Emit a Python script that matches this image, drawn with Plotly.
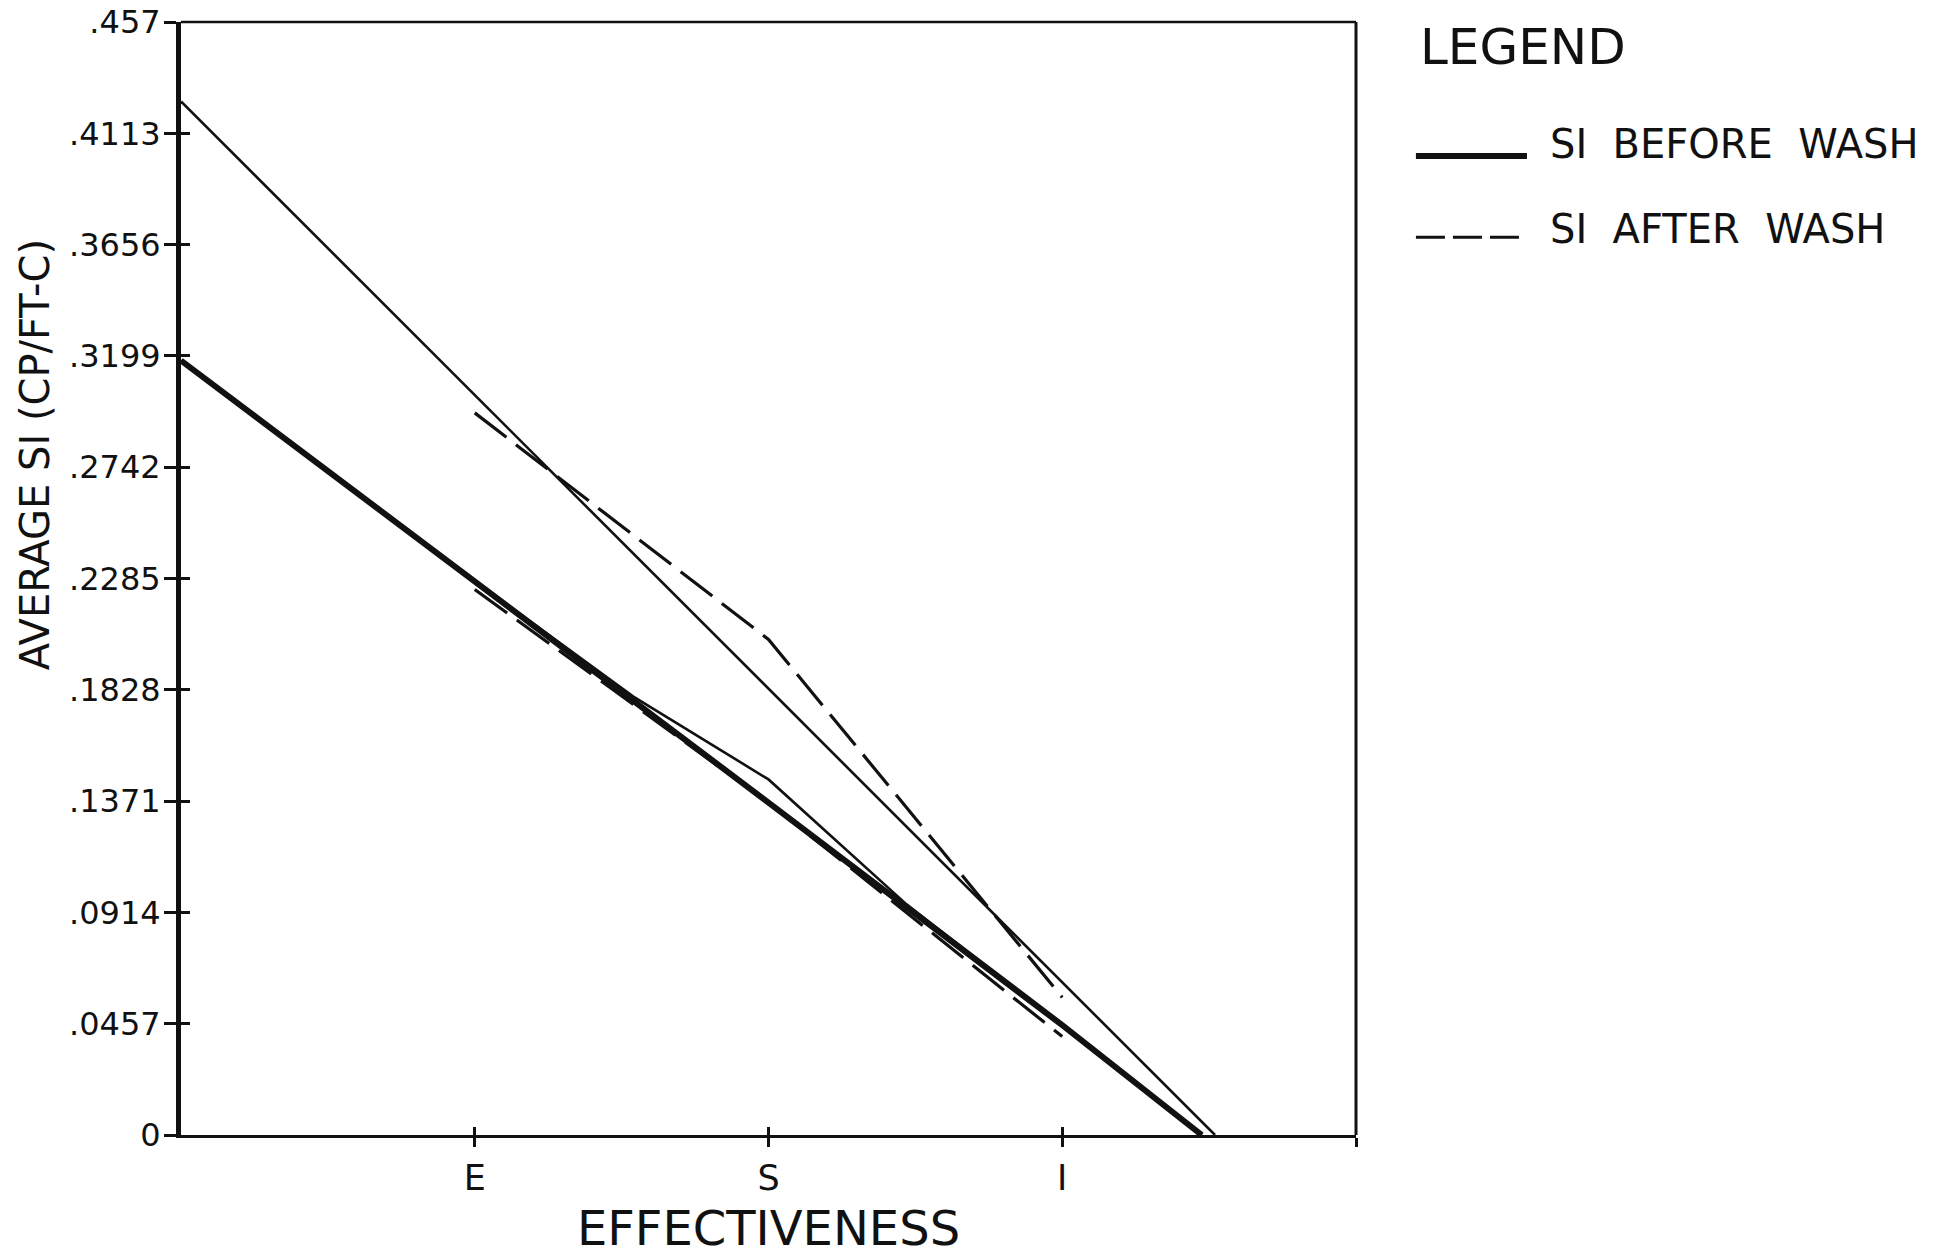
import plotly.graph_objects as go

# ---- data ----
x_tick_vals = [1, 2, 3, 4]
x_tick_text = ["E", "S", "I", ""]
y_tick_vals = [0, 0.0457, 0.0914, 0.1371, 0.1828, 0.2285, 0.2742, 0.3199, 0.3656, 0.4113, 0.457]
y_tick_text = ["0", ".0457", ".0914", ".1371", ".1828", ".2285", ".2742", ".3199", ".3656", ".4113", ".457"]

upper_thin_x = [0, 3.52]
upper_thin_y = [0.4244, 0.0]

before_x = [0, 1, 2, 3, 3.475]
before_y = [0.318, 0.2276, 0.1365, 0.0451, 0.0]

lower_thin_x = [0, 1, 1.54, 2, 2.47, 3, 3.475]
lower_thin_y = [0.318, 0.2276, 0.180, 0.146, 0.0947, 0.0451, 0.0]

after_upper_x = [1, 2, 3]
after_upper_y = [0.2965, 0.2035, 0.0565]

after_lower_x = [1, 2, 3]
after_lower_y = [0.224, 0.1365, 0.0404]

FONT = "DejaVu Sans"
INK = "#111111"

fig = go.Figure()

fig.add_trace(go.Scatter(x=after_upper_x, y=after_upper_y, mode="lines",
                         line=dict(color=INK, width=3.2, dash="40px,12px"),
                         name="SI AFTER WASH", showlegend=False))
fig.add_trace(go.Scatter(x=after_lower_x, y=after_lower_y, mode="lines",
                         line=dict(color=INK, width=3.2, dash="40px,12px"),
                         name="SI AFTER WASH (2)", showlegend=False))
fig.add_trace(go.Scatter(x=upper_thin_x, y=upper_thin_y, mode="lines",
                         line=dict(color=INK, width=2.6),
                         name="upper", showlegend=False))
fig.add_trace(go.Scatter(x=lower_thin_x, y=lower_thin_y, mode="lines",
                         line=dict(color=INK, width=2.6),
                         name="lower", showlegend=False))
fig.add_trace(go.Scatter(x=before_x, y=before_y, mode="lines",
                         line=dict(color=INK, width=6),
                         name="SI BEFORE WASH", showlegend=False))

fig.update_layout(
    width=1960, height=1256,
    margin=dict(l=181, r=604, t=22, b=121, autoexpand=False),
    paper_bgcolor="white", plot_bgcolor="white",
    font=dict(family=FONT, color=INK),
    showlegend=False,
    xaxis=dict(range=[0, 4], tickvals=x_tick_vals, ticktext=x_tick_text, automargin=False,
               showgrid=False, zeroline=False, showline=True, linecolor=INK, linewidth=3,
               ticks="outside", ticklen=9, tickwidth=2.5, tickcolor=INK,
               tickfont=dict(size=35, family=FONT, color=INK), ticklabelstandoff=1,
               title=dict(text="EFFECTIVENESS", font=dict(size=48, family=FONT, color=INK), standoff=15)),
    xaxis2=dict(range=[0, 4], overlaying="x", anchor="y", side="bottom", tickvals=x_tick_vals,
                showticklabels=False, showgrid=False, zeroline=False, showline=False,
                ticks="inside", ticklen=8, tickwidth=2.5, tickcolor=INK),
    yaxis=dict(range=[0, 0.457], tickvals=y_tick_vals, ticktext=y_tick_text, automargin=False,
               showgrid=False, zeroline=False, showline=True, linecolor=INK, linewidth=5,
               ticks="outside", ticklen=12, tickwidth=2.5, tickcolor=INK,
               tickfont=dict(size=32, family=FONT, color=INK), ticklabelstandoff=-3),
    yaxis2=dict(range=[0, 0.457], overlaying="y", anchor="x", side="left", tickvals=y_tick_vals,
                showticklabels=False, showgrid=False, zeroline=False, showline=False,
                ticks="inside", ticklen=9, tickwidth=2.5, tickcolor=INK),
)

# invisible helper trace so the overlay axes render
fig.add_trace(go.Scatter(x=[0], y=[0], xaxis="x2", yaxis="y2", mode="markers",
                         marker=dict(opacity=0), hoverinfo="skip", showlegend=False))

# frame (top and right borders)
fig.add_shape(type="line", xref="paper", yref="paper", x0=0, x1=1, y0=1, y1=1,
              line=dict(color=INK, width=2.5))
fig.add_shape(type="line", xref="paper", yref="paper", x0=1, x1=1, y0=0, y1=1,
              line=dict(color=INK, width=3))

# y-axis title
fig.add_annotation(text="AVERAGE SI (CP/FT-C)", xref="paper", yref="paper",
                   x=-0.124, y=0.611, textangle=-90, showarrow=False,
                   xanchor="center", yanchor="middle",
                   font=dict(size=40, family=FONT, color=INK))

# manual legend
fig.add_annotation(text="LEGEND", xref="paper", yref="paper", x=1.053, y=0.9775,
                   xanchor="left", yanchor="middle", showarrow=False,
                   font=dict(size=50, family=FONT, color=INK))
fig.add_shape(type="line", xref="paper", yref="paper", x0=1.051, x1=1.1455, y0=0.8795, y1=0.8795,
              line=dict(color=INK, width=6))
fig.add_annotation(text="SI\u00a0\u00a0BEFORE\u00a0\u00a0WASH", xref="paper", yref="paper", x=1.163, y=0.8908,
                   xanchor="left", yanchor="middle", showarrow=False,
                   font=dict(size=40, family=FONT, color=INK))
fig.add_shape(type="line", xref="paper", yref="paper", x0=1.051, x1=1.1387, y0=0.8067, y1=0.8067,
              line=dict(color=INK, width=3, dash="29px,8px"))
fig.add_annotation(text="SI\u00a0\u00a0AFTER\u00a0\u00a0WASH", xref="paper", yref="paper", x=1.163, y=0.8144,
                   xanchor="left", yanchor="middle", showarrow=False,
                   font=dict(size=40, family=FONT, color=INK))

fig.write_html("out.html")
